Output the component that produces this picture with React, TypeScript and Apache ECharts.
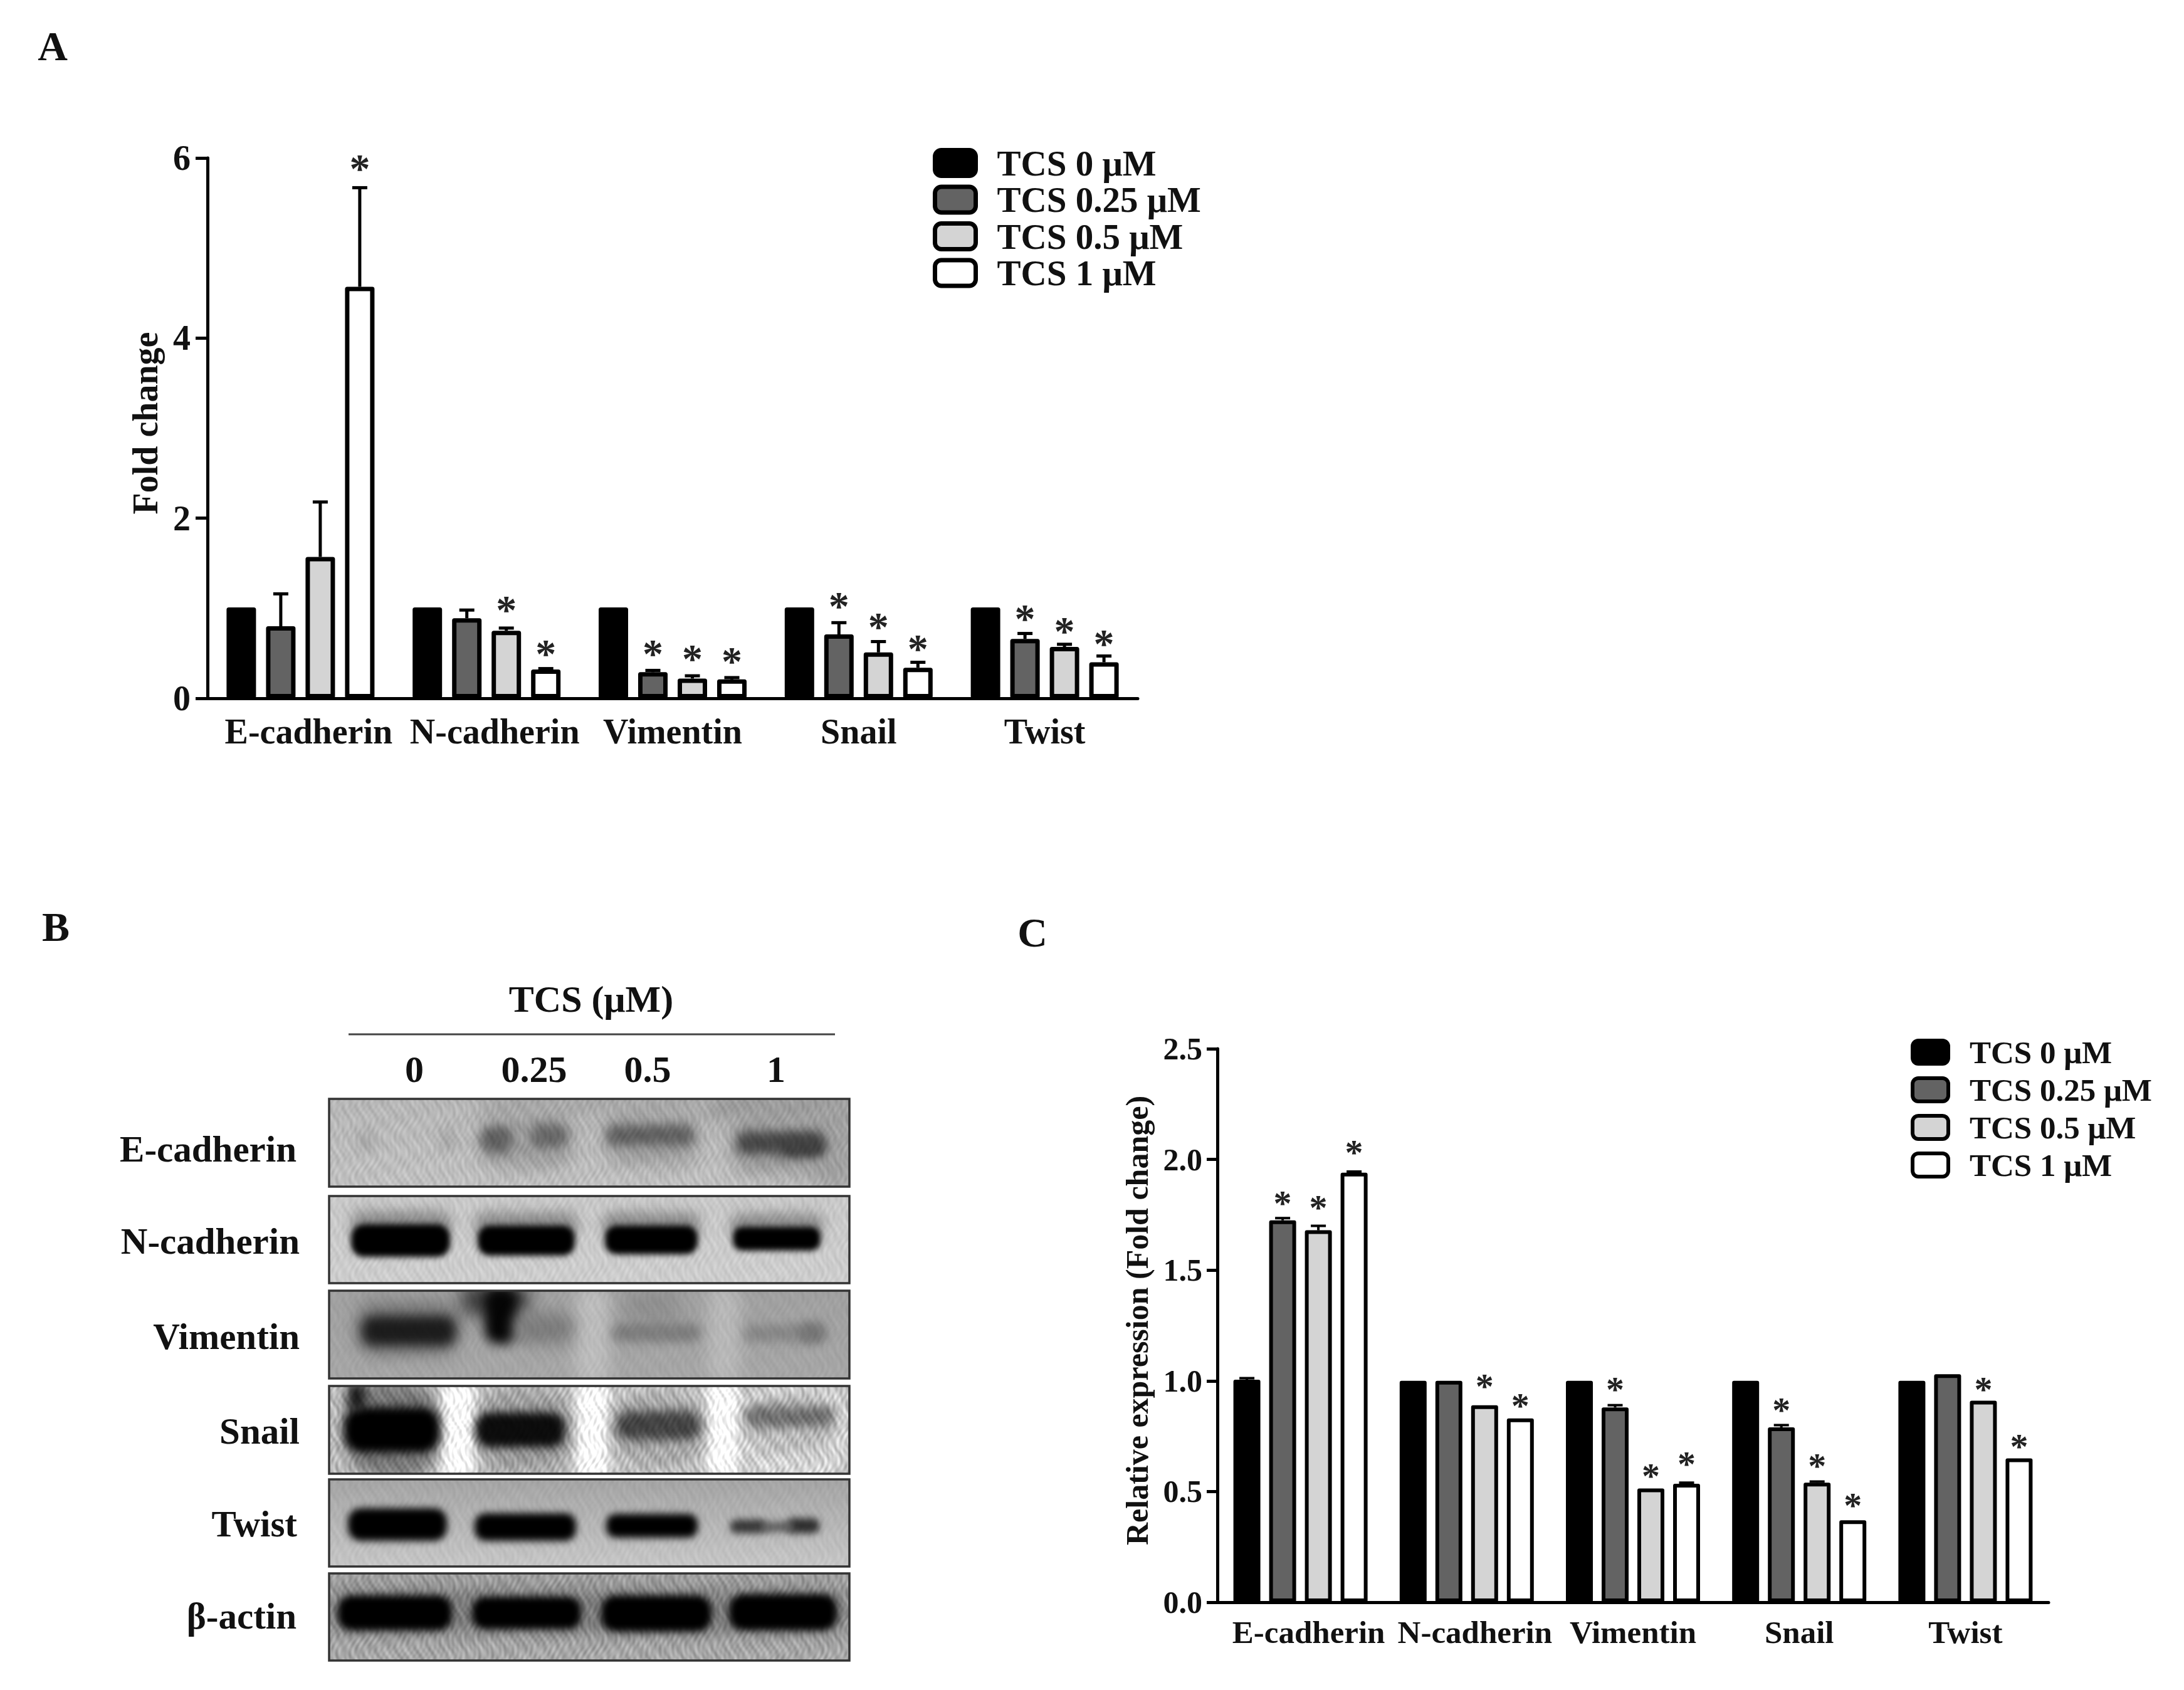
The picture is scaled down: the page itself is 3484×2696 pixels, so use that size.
import React, { useEffect, useRef } from "react";
import * as echarts from "echarts";

const FONT = "Liberation Serif";

// ---------- data ----------
const categories = ["E-cadherin", "N-cadherin", "Vimentin", "Snail", "Twist"];
const doses = ["TCS 0 μM", "TCS 0.25 μM", "TCS 0.5 μM", "TCS 1 μM"];
const fills = ["#000000", "#636363", "#d4d4d4", "#ffffff"];

// Panel A: bar means, upper whisker ends, star heights (null = none)
const a0 = [1.01, 1.01, 1.01, 1.01, 1.01];
const a1 = [0.8, 0.89, 0.29, 0.71, 0.66];
const a2 = [1.57, 0.75, 0.22, 0.51, 0.57];
const a3 = [4.57, 0.32, 0.21, 0.34, 0.4];
const aErr0 = [1.01, 1.01, 1.01, 1.01, 1.01];
const aErr1 = [1.16, 0.98, 0.31, 0.84, 0.72];
const aErr2 = [2.18, 0.78, 0.25, 0.63, 0.6];
const aErr3 = [5.67, 0.33, 0.23, 0.4, 0.47];
const aStar0 = [null, null, null, null, null];
const aStar1 = [null, null, 0.535, 1.06, 0.92];
const aStar2 = [null, 1.02, 0.475, 0.83, 0.785];
const aStar3 = [5.92, 0.535, 0.45, 0.59, 0.646];

// Panel C
const c0 = [1.005, 1, 1, 1, 1];
const c1 = [1.725, 1, 0.88, 0.79, 1.03];
const c2 = [1.68, 0.89, 0.514, 0.54, 0.91];
const c3 = [1.94, 0.83, 0.535, 0.37, 0.65];
const cErr0 = [1.012, 1, 1, 1, 1];
const cErr1 = [1.735, 1, 0.89, 0.8, 1.03];
const cErr2 = [1.7, 0.89, 0.514, 0.545, 0.91];
const cErr3 = [1.945, 0.83, 0.54, 0.37, 0.65];
const cStar0 = [null, null, null, null, null];
const cStar1 = [1.81, null, 0.97, 0.876, null];
const cStar2 = [1.79, 0.985, 0.578, 0.623, 0.97];
const cStar3 = [2.04, 0.895, 0.632, 0.445, 0.713];

const yTicksA = { min: 0, max: 6, interval: 2 };
const yTicksC = { min: 0, max: 2.5, interval: 0.5 };

// ---------- panel B: western-blot strips ----------
const blotLanes = ["0", "0.25", "0.5", "1"];
const blotRows = ["E-cadherin", "N-cadherin", "Vimentin", "Snail", "Twist", "β-actin"];

type Blob = [number, number, number, number, string, number];
const blotPanels: { top: number; h: number; labelY: number; labelR: number; bg: [string, string]; tex: number; blobs: Blob[] }[] = [
  {
    top: 1753, h: 140, labelY: 1833, labelR: 473, bg: ["#b6b6b6", "#c0c0c0"], tex: 15,
    blobs: [
      [600, -10, 240, 45, "#9a9a9a", 14], [770, 0, 70, 150, "#a0a0a0", 14], [240, -10, 360, 35, "#a6a6a6", 14],
      [45, 55, 28, 25, "#a0a0a0", 9], [178, 50, 22, 30, "#a0a0a0", 9],
      [240, 25, 150, 85, "#9c9c9c", 14], [440, 25, 150, 80, "#9c9c9c", 14], [640, 30, 155, 90, "#989898", 14],
      [242, 44, 50, 42, "#606060", 8], [322, 40, 58, 38, "#686868", 8],
      [442, 42, 140, 32, "#606060", 8], [650, 52, 140, 36, "#484848", 8], [720, 64, 70, 28, "#404040", 8],
    ],
  },
  {
    top: 1908, h: 139, labelY: 1980, labelR: 478, bg: ["#c8c8c8", "#cdcdcd"], tex: 10,
    blobs: [
      [35, 24, 160, 40, "#8a8a8a", 10], [232, 26, 165, 40, "#8a8a8a", 10], [436, 26, 156, 40, "#8a8a8a", 10], [640, 28, 148, 36, "#8a8a8a", 10],
      [35, 45, 158, 52, "#000000", 5], [237, 47, 155, 48, "#000000", 5], [440, 47, 148, 46, "#000000", 5], [644, 49, 140, 38, "#000000", 5],
    ],
  },
  {
    top: 2059, h: 140, labelY: 2132, labelR: 478, bg: ["#a0a0a0", "#a6a6a6"], tex: 7,
    blobs: [
      [392, -10, 56, 160, "#bcbcbc", 12], [604, -10, 52, 160, "#b8b8b8", 12],
      [40, 15, 170, 90, "#7c7c7c", 12],
      [52, 40, 150, 48, "#1c1c1c", 9], [210, -10, 110, 50, "#3a3a3a", 14], [248, -5, 52, 90, "#050505", 9], [295, 35, 95, 50, "#7c7c7c", 12],
      [470, 0, 90, 50, "#8e8e8e", 14], [452, 52, 140, 30, "#7c7c7c", 8], [662, 54, 130, 28, "#868686", 8], [750, 52, 40, 30, "#747474", 8],
    ],
  },
  {
    top: 2211, h: 140, labelY: 2283, labelR: 478, bg: ["#bbbbbb", "#bdbdbd"], tex: 30,
    blobs: [
      [177, -10, 56, 160, "#ffffff", 9], [392, -10, 56, 160, "#ffffff", 9], [600, -10, 56, 160, "#ffffff", 9], [656, -10, 174, 160, "#d8d8d8", 9],
      [448, -10, 152, 160, "#c8c8c8", 9],
      [25, -5, 152, 150, "#757575", 11], [238, 10, 150, 125, "#9a9a9a", 11], [456, 10, 140, 120, "#a8a8a8", 11], [664, 10, 144, 100, "#bcbcbc", 11],
      [24, 34, 152, 72, "#000000", 7], [30, -5, 28, 45, "#1a1a1a", 8],
      [234, 42, 142, 56, "#0c0c0c", 7],
      [458, 40, 134, 46, "#434343", 8],
      [664, 32, 142, 34, "#6e6e6e", 8],
    ],
  },
  {
    top: 2360, h: 139, labelY: 2431, labelR: 474, bg: ["#a4a4a4", "#c6c6c6"], tex: 7,
    blobs: [
      [30, 46, 158, 52, "#000000", 6], [232, 54, 162, 44, "#000000", 6], [442, 55, 146, 38, "#000000", 6],
      [640, 64, 58, 22, "#383838", 6], [730, 62, 52, 24, "#2e2e2e", 6], [690, 68, 50, 16, "#5c5c5c", 6],
    ],
  },
  {
    top: 2510, h: 139, labelY: 2578, labelR: 473, bg: ["#a0a0a0", "#a8a8a8"], tex: 28,
    blobs: [
      [0, 25, 830, 72, "#7c7c7c", 12],
      [14, 35, 182, 56, "#000000", 6], [228, 37, 174, 52, "#000000", 6], [434, 35, 176, 58, "#000000", 6], [638, 33, 172, 58, "#000000", 6],
    ],
  },
];

function renderBlot(w: number, p: (typeof blotPanels)[number]): string {
  const c = document.createElement("canvas");
  c.width = w;
  c.height = p.h;
  const ctx = c.getContext("2d")!;
  const g = ctx.createLinearGradient(0, 0, 0, p.h);
  g.addColorStop(0, p.bg[0]);
  g.addColorStop(1, p.bg[1]);
  ctx.fillStyle = g;
  ctx.fillRect(0, 0, w, p.h);
  p.blobs.forEach(([x, y, bw, bh, col, blur]) => {
    ctx.filter = `blur(${blur}px)`;
    ctx.fillStyle = col;
    ctx.beginPath();
    (ctx as any).roundRect(x, y, bw, bh, Math.min(bw, bh) / 2.5);
    ctx.fill();
  });
  ctx.filter = "none";
  // film grain: fixed interference pattern, stronger in the lighter areas
  const img = ctx.getImageData(0, 0, w, p.h);
  const d = img.data;
  for (let y = 0; y < p.h; y++) {
    for (let x = 0; x < w; x++) {
      const i = (y * w + x) * 4;
      const t =
        Math.sin(x * 0.61 + Math.sin(y * 0.11 + x * 0.013) * 4) * 0.38 +
        Math.sin(x * 0.27 - y * 0.19 + Math.sin(x * 0.031) * 3) * 0.32 +
        Math.sin(x * 0.83 + y * 0.23 + Math.sin(y * 0.07 - x * 0.021) * 5) * 0.2 +
        Math.sin(x * 0.053 + y * 0.17) * 0.1;
      const v = d[i] + (t * p.tex * d[i]) / 170;
      const q = Math.max(0, Math.min(255, v));
      d[i] = d[i + 1] = d[i + 2] = q;
    }
  }
  ctx.putImageData(img, 0, 0);
  return c.toDataURL("image/png");
}

// ---------- options ----------
function panelSeries(
  xi: number,
  means: number[][],
  errs: number[][],
  stars: (number | null)[][],
  cfg: { bw: number; pitch: number; border: number; errW: number; cap: number; star: number; starDy: number }
) {
  const out: any[] = [];
  means.forEach((vals, s) => {
    out.push({
      type: "bar",
      name: doses[s],
      xAxisIndex: xi,
      yAxisIndex: xi,
      data: vals,
      barWidth: cfg.bw,
      barGap: `${((cfg.pitch - cfg.bw) / cfg.bw) * 100}%`,
      itemStyle: { color: fills[s], borderColor: "#000", borderWidth: cfg.border, borderJoin: "round" },
      silent: true,
    });
  });
  const rows: any[] = [];
  means.forEach((vals, s) =>
    vals.forEach((v, k) => rows.push([k, s, v, errs[s][k], stars[s][k] == null ? "-" : stars[s][k]]))
  );
  out.push({
    type: "custom",
    xAxisIndex: xi,
    yAxisIndex: xi,
    silent: true,
    z: 3,
    data: rows,
    encode: { x: 0, y: 3 },
    renderItem: (_: any, api: any) => {
      const k = api.value(0);
      const s = api.value(1);
      const v = api.value(2);
      const e = api.value(3);
      const st = api.value(4);
      const base = api.coord([k, v]);
      const x = base[0] + (s - 1.5) * cfg.pitch;
      const yE = api.coord([k, e])[1];
      const kids: any[] = [];
      if (e > v) {
        const ls = { stroke: "#000", lineWidth: cfg.errW };
        kids.push({ type: "line", shape: { x1: x, y1: base[1], x2: x, y2: yE }, style: ls });
        kids.push({ type: "line", shape: { x1: x - cfg.cap, y1: yE, x2: x + cfg.cap, y2: yE }, style: ls });
      }
      if (!isNaN(st)) {
        kids.push({
          type: "text",
          x,
          y: api.coord([k, st])[1] + cfg.starDy,
          style: {
            text: "*",
            fontSize: cfg.star,
            fontWeight: "bold",
            fontFamily: FONT,
            fill: "#222",
            textAlign: "center",
            textVerticalAlign: "middle",
          },
        });
      }
      return { type: "group", children: kids };
    },
  });
  return out;
}

function legendOf(left: number, top: number, w: number, h: number, gap: number, pad: number, fs: number, border: number) {
  return {
    show: true,
    orient: "vertical",
    left,
    top,
    padding: 0,
    itemWidth: w,
    itemHeight: h,
    itemGap: gap,
    selectedMode: false,
    data: doses,
    itemStyle: { borderWidth: border, borderColor: "#000", borderJoin: "round" },
    textStyle: { fontFamily: FONT, fontWeight: "bold", fontSize: fs, color: "#111", padding: [0, 0, 0, pad] },
  };
}

function xAxisOf(i: number, fs: number, margin: number, w: number, tick: number, labelShift: number[]) {
  return {
    type: "category",
    gridIndex: i,
    data: categories.map((value, k) => ({ value, textStyle: { padding: [0, 0, 0, labelShift[k]] } })),
    axisLine: { lineStyle: { color: "#000", width: w } },
    axisTick: { alignWithLabel: true, length: tick, lineStyle: { color: "#000", width: w } },
    axisLabel: {
      interval: 0,
      margin,
      fontFamily: FONT,
      fontWeight: "bold",
      fontSize: fs,
      color: "#111",
      verticalAlign: "top",
    },
  };
}

function yAxisOf(i: number, t: any, fs: number, margin: number, w: number, tick: number, name: string, gap: number, fmt?: (v: number) => string) {
  return {
    type: "value",
    gridIndex: i,
    ...t,
    name,
    nameLocation: "middle",
    nameGap: gap,
    nameTextStyle: { fontFamily: FONT, fontWeight: "bold", fontSize: fs, color: "#111", padding: [0, 0, 0, 16] },
    splitLine: { show: false },
    axisLine: { show: true, lineStyle: { color: "#000", width: w } },
    axisTick: { show: true, length: tick, lineStyle: { color: "#000", width: w } },
    axisLabel: { margin, fontFamily: FONT, fontWeight: "bold", fontSize: fs, color: "#111", formatter: fmt },
  };
}

function txt(text: string, x: number, y: number, fontSize: number, textAlign = "center") {
  return {
    type: "text",
    x,
    y,
    silent: true,
    style: { text, fontSize, fontWeight: "bold", fontFamily: FONT, fill: "#111", textAlign, textVerticalAlign: "middle" },
  };
}

function blotGraphics() {
  const L = 525;
  const W = 830;
  const els: any[] = [
    txt("A", 84, 73, 66),
    txt("B", 89, 1478, 66),
    txt("C", 1647, 1487, 66),
    txt("TCS (μM)", 943, 1594, 60),
    { type: "line", silent: true, shape: { x1: 556, y1: 1650, x2: 1332, y2: 1650 }, style: { stroke: "#444", lineWidth: 3 } },
    txt(blotLanes[0], 661, 1706, 60),
    txt(blotLanes[1], 852, 1706, 60),
    txt(blotLanes[2], 1033, 1706, 60),
    txt(blotLanes[3], 1238, 1706, 60),
  ];
  blotPanels.forEach((p, i) => {
    els.push({ type: "image", silent: true, style: { image: renderBlot(W, p), x: L, y: p.top, width: W, height: p.h } });
    els.push({ type: "rect", silent: true, shape: { x: L, y: p.top, width: W, height: p.h }, style: { fill: "none", stroke: "#333", lineWidth: 3.5 } });
    els.push(txt(blotRows[i], p.labelR, p.labelY, 59, "right"));
  });
  return els;
}

const labelShift = [26, 26, 0, 0, 0];

export default function App() {
  const ref = useRef<HTMLDivElement>(null);
  useEffect(() => {
    const chart = echarts.init(ref.current!, undefined, { renderer: "svg" });
    chart.setOption({
      animation: false,
      backgroundColor: "#ffffff",
      tooltip: { show: false },
      grid: [
        { left: 331, top: 252, width: 1484, height: 862 },
        { left: 1942, top: 1673, width: 1326, height: 883 },
      ],
      xAxis: [xAxisOf(0, 56, 25, 5, 18, labelShift), xAxisOf(1, 51, 22, 5, 16, labelShift)],
      yAxis: [
        yAxisOf(0, yTicksA, 56, 27, 5, 19, "Fold change", 71),
        yAxisOf(1, yTicksC, 50, 24, 5, 17, "Relative expression (Fold change)", 103, (v) => v.toFixed(1)),
      ],
      legend: [legendOf(1488, 231.5, 65, 41, 1.5, 29, 57, 7), legendOf(3048, 1653, 57, 37, 9, 29, 51, 6)],
      series: [
        ...panelSeries(0, [a0, a1, a2, a3], [aErr0, aErr1, aErr2, aErr3], [aStar0, aStar1, aStar2, aStar3], {
          bw: 47, pitch: 63, border: 7, errW: 5, cap: 12, star: 66, starDy: 5,
        }),
        ...panelSeries(1, [c0, c1, c2, c3], [cErr0, cErr1, cErr2, cErr3], [cStar0, cStar1, cStar2, cStar3], {
          bw: 43, pitch: 57, border: 6, errW: 4, cap: 12, star: 58, starDy: 3,
        }),
      ],
      graphic: blotGraphics(),
    });
    return () => chart.dispose();
  }, []);
  return <div ref={ref} style={{ position: "absolute", left: 0, top: 0, width: 3484, height: 2696 }} />;
}
